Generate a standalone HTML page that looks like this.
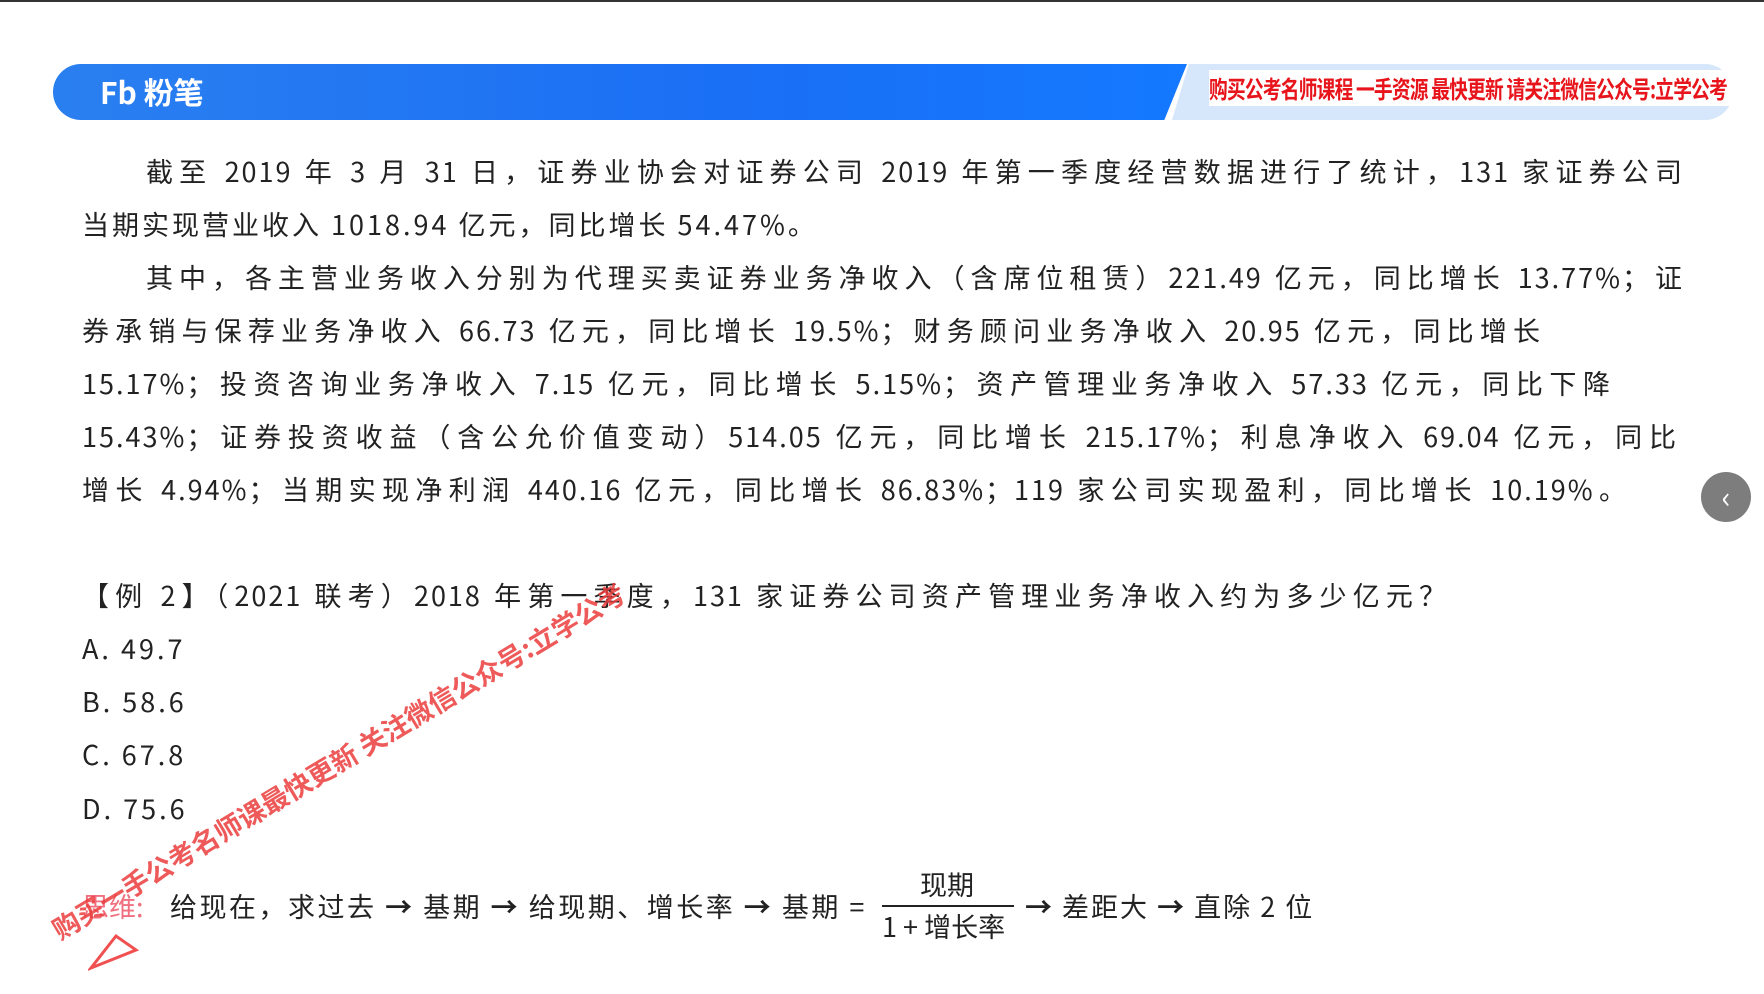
<!DOCTYPE html>
<html><head><meta charset="utf-8">
<style>
body{margin:0;width:1764px;height:994px;background:#fff;overflow:hidden;position:relative;font-family:"Noto Sans CJK SC","Liberation Sans",sans-serif;color:#222}
.ln{position:absolute;font-size:27px;line-height:40px;white-space:nowrap;letter-spacing:2px}
.j{text-align:justify;text-align-last:justify}
</style></head><body>
<div style="position:absolute;left:0;top:0;width:1764px;height:2px;background:#333"></div>
<div style="position:absolute;left:53px;top:64px;width:1134px;height:56px;background:linear-gradient(90deg,#2a7ff0,#1a6ff5 60%,#1479ff);border-radius:28px 0 0 28px;clip-path:polygon(0 0,100% 0,98% 100%,0 100%)"></div>
<div style="position:absolute;left:1172px;top:64px;width:561px;height:56px;background:#d6e6fb;border-radius:0 28px 28px 0;clip-path:polygon(3% 0,100% 0,100% 100%,0 100%)"></div>
<div style="position:absolute;left:100px;top:71px;font-size:30px;font-weight:bold;color:#fff;line-height:40px">Fb 粉笔</div>
<div style="position:absolute;left:1209px;top:70px;width:524px;height:36px;background:#fff;overflow:hidden">
<div style="color:#e8141b;font-weight:bold;font-size:24px;line-height:36px;white-space:nowrap;transform:scaleX(0.78);transform-origin:0 0;width:672px;letter-spacing:-1px">购买公考名师课程 一手资源 最快更新 请关注微信公众号:立学公考</div></div>

<div class="ln j" style="left:146px;top:151px;width:1538px">截至 2019 年 3 月 31 日，证券业协会对证券公司 2019 年第一季度经营数据进行了统计，131 家证券公司</div>
<div class="ln" style="left:82px;top:204px;letter-spacing:3px">当期实现营业收入 1018.94 亿元，同比增长 54.47%。</div>
<div class="ln j" style="left:146px;top:257px;width:1538px">其中，各主营业务收入分别为代理买卖证券业务净收入（含席位租赁）221.49 亿元，同比增长 13.77%；证</div>
<div class="ln j" style="left:82px;top:310px;width:1460px">券承销与保荐业务净收入 66.73 亿元，同比增长 19.5%；财务顾问业务净收入 20.95 亿元，同比增长</div>
<div class="ln j" style="left:82px;top:363px;width:1530px">15.17%；投资咨询业务净收入 7.15 亿元，同比增长 5.15%；资产管理业务净收入 57.33 亿元，同比下降</div>
<div class="ln j" style="left:82px;top:416px;width:1596px">15.43%；证券投资收益（含公允价值变动）514.05 亿元，同比增长 215.17%；利息净收入 69.04 亿元，同比</div>
<div class="ln j" style="left:82px;top:469px;width:1546px">增长 4.94%；当期实现净利润 440.16 亿元，同比增长 86.83%；119 家公司实现盈利，同比增长 10.19%。</div>

<div style="position:absolute;left:1701px;top:472px;width:50px;height:50px;border-radius:50%;background:#7d7d7d;color:#fff;font-size:30px;line-height:46px;text-align:center">‹</div>

<div class="ln j" style="left:82px;top:575px;width:1366px">【例 2】（2021 联考）2018 年第一季度，131 家证券公司资产管理业务净收入约为多少亿元？</div>
<div class="ln" style="left:82px;top:628px;letter-spacing:3px">A. 49.7</div>
<div class="ln" style="left:82px;top:681px;letter-spacing:3px">B. 58.6</div>
<div class="ln" style="left:82px;top:734px;letter-spacing:3px">C. 67.8</div>
<div class="ln" style="left:82px;top:788px;letter-spacing:3px">D. 75.6</div>

<div class="ln" style="left:82px;top:886px;color:#f07080;letter-spacing:0">思维:</div>
<div class="ln" style="left:170px;top:886px;letter-spacing:2.5px">给现在，求过去 <b>→</b> 基期 <b>→</b> 给现期、增长率 <b>→</b> 基期 =</div>
<div class="ln" style="left:920px;top:864px;letter-spacing:0">现期</div>
<div style="position:absolute;left:882px;top:905px;width:132px;height:2px;background:#222"></div>
<div class="ln" style="left:882px;top:906px;letter-spacing:0">1 + 增长率</div>
<div class="ln" style="left:1025px;top:886px;letter-spacing:2px"><b>→</b> 差距大 <b>→</b> 直除 2 位</div>

<div style="position:absolute;left:62px;top:914px;transform:rotate(-31deg);transform-origin:0 100%;color:rgba(235,60,60,0.85);font-size:27px;white-space:nowrap;line-height:30px;font-weight:bold">购买一手公考名师课最快更新 关注微信公众号:立学公考</div>
<svg style="position:absolute;left:88px;top:932px" width="52" height="40"><polygon points="3,36 48,18 28,4" fill="none" stroke="#f05050" stroke-width="3"/></svg>
</body></html>
